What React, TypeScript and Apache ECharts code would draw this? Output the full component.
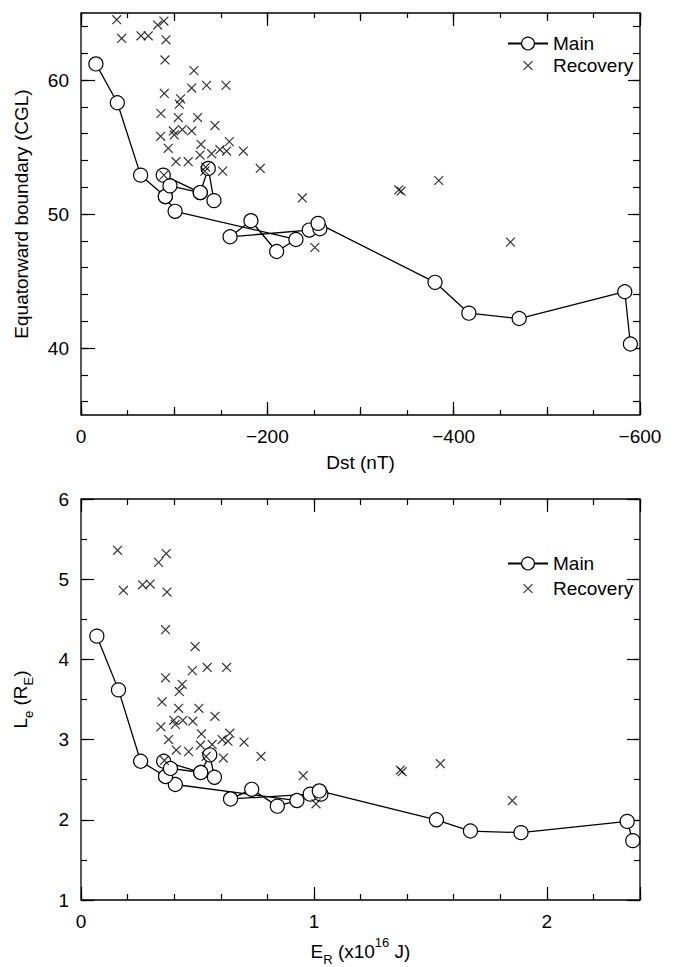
import { useEffect, useRef } from 'react';
import * as echarts from 'echarts';

const FONT = '"Liberation Sans", Arial, Helvetica, sans-serif';

// ---- Top panel: Dst (nT) vs equatorward boundary (CGL) ----
// null entries break the polyline into separate pieces
const mainDst = [-16, -39, -64, -90.5, -101, -230.7, -210, -182.4, -160, -245, -256.4, -254.5, -380, -416.3, -470.3, -583.7, -589.7, null, -88.3, -128, -136.6, -142.7, null, -90.5, -95.5, -128];
const mainCgl = [61.2, 58.3, 52.9, 51.3, 50.2, 48.1, 47.2, 49.5, 48.3, 48.8, 48.9, 49.3, 44.9, 42.6, 42.2, 44.2, 40.3, null, 52.9, 51.6, 53.4, 51.0, null, 51.3, 52.1, 51.6];

const recDst = [-38.3, -89, -82.3, -43.6, -64.4, -72.2, -91.2, -90.1, -121.2, -134.8, -155.6, -118.8, -89.4, -106.9, -105.5, -85.8, -104.4, -125.2, -143.8, -85.5, -99.1, -100.1, -108.7, -118.8, -128.8, -159.2, -93.7, -140.2, -149.1, -156.3, -174.2, -127.7, -101.9, -115.1, -133.8, -133, -152, -192.4, -89, -237.5, -251, -341, -343.5, -384, -461];
const recCgl = [64.5, 64.4, 64.1, 63.1, 63.3, 63.3, 63.0, 61.5, 60.7, 59.6, 59.6, 59.4, 59.0, 58.6, 58.2, 57.5, 57.2, 57.2, 56.6, 55.8, 56.2, 55.9, 56.3, 56.2, 55.2, 55.4, 54.9, 54.5, 54.8, 54.7, 54.7, 54.4, 53.9, 53.9, 53.5, 53.2, 53.2, 53.4, 52.9, 51.2, 47.5, 51.8, 51.7, 52.5, 47.9];

// tick labels of the CGL axis; minor ticks every 2 between 36 and 64
const cglTickLabels = [40, 50, 60];
const cglMinorTicks: number[] = [];
for (let v = 36; v <= 64; v += 2) cglMinorTicks.push(v);

// ---- Bottom panel: E_R (x10^16 J) vs L_e (R_E) ----
const mainEr = [0.068, 0.161, 0.256, 0.363, 0.405, 0.927, 0.843, 0.733, 0.642, 0.984, 1.03, 1.023, 1.526, 1.672, 1.889, 2.345, 2.369, null, 0.355, 0.514, 0.553, 0.573, null, 0.363, 0.384, 0.514];
const mainLe = [4.29, 3.62, 2.73, 2.54, 2.44, 2.24, 2.17, 2.38, 2.26, 2.32, 2.32, 2.36, 2.00, 1.86, 1.84, 1.98, 1.74, null, 2.73, 2.59, 2.81, 2.53, null, 2.54, 2.64, 2.59];

const recEr = [0.157, 0.366, 0.333, 0.182, 0.264, 0.297, 0.369, 0.363, 0.49, 0.478, 0.542, 0.625, 0.363, 0.434, 0.422, 0.348, 0.419, 0.506, 0.575, 0.343, 0.398, 0.405, 0.437, 0.48, 0.517, 0.639, 0.376, 0.563, 0.606, 0.631, 0.7, 0.513, 0.409, 0.462, 0.537, 0.611, 0.773, 0.358, 0.954, 1.009, 1.371, 1.379, 1.543, 1.852];
const recLe = [5.36, 5.32, 5.21, 4.86, 4.93, 4.94, 4.84, 4.37, 4.16, 3.86, 3.90, 3.90, 3.77, 3.69, 3.60, 3.47, 3.39, 3.39, 3.29, 3.16, 3.24, 3.19, 3.24, 3.23, 3.07, 3.08, 3.00, 2.94, 3.00, 2.98, 2.97, 2.93, 2.87, 2.85, 2.79, 2.77, 2.79, 2.74, 2.55, 2.20, 2.62, 2.60, 2.70, 2.24];

const seriesNames = ['Main', 'Recovery'];

const CROSS = 'path://M-4,-4M0,0L10,10M10,0L0,10M14,14';

function pairs(xs: (number | null)[], ys: (number | null)[]) {
  return xs.map((x, i) => (x === null || ys[i] === null ? ['-', '-'] : [x, ys[i]]));
}

function tickAxis(o: any) {
  const { len, labels, tickValues, labelValues, ...rest } = o;
  const tick: any = { show: true, inside: true, length: len, lineStyle: { color: '#000', width: 1.2 } };
  if (tickValues) tick.customValues = tickValues;
  const label: any = labels
    ? { show: true, color: '#000', fontSize: 19, fontFamily: FONT, margin: 12, formatter: labels }
    : { show: false };
  if (labelValues) label.customValues = labelValues;
  return {
    type: 'value',
    axisLine: { show: false, onZero: false },
    splitLine: { show: false },
    axisTick: tick,
    axisLabel: label,
    ...rest,
  };
}

const nameStyle = {
  color: '#000',
  fontSize: 19,
  fontFamily: FONT,
  rich: {
    n: { fontSize: 19, fontFamily: FONT, color: '#000', lineHeight: 30 },
    s: { fontSize: 13, fontFamily: FONT, color: '#000', lineHeight: 13, verticalAlign: 'bottom' },
    p: { fontSize: 13, fontFamily: FONT, color: '#000', lineHeight: 13, verticalAlign: 'top' },
  },
};

const dstFmt = (v: number) => (Math.abs(v) < 1e-9 ? '0' : '\u2212' + Math.abs(v));
const numFmt = (v: number) => String(v);
const intFmt = (v: number) => (Math.abs(v - Math.round(v)) < 1e-9 ? String(Math.round(v)) : '');

const legendBase = {
  orient: 'vertical', left: 502, itemWidth: 40, itemHeight: 16,
  textStyle: { fontSize: 19, color: '#000', fontFamily: FONT },
  itemStyle: { borderWidth: 1.2 },
  data: seriesNames, selectedMode: false,
};

export default function App() {
  const ref = useRef<HTMLDivElement>(null);
  useEffect(() => {
    if (!ref.current) return;
    const chart = echarts.init(ref.current, undefined, { renderer: 'svg' });
    const topX = { gridIndex: 0, min: -600, max: 0, inverse: true };
    const topY = { gridIndex: 0, min: 35, max: 65 };
    const botX = { gridIndex: 1, min: 0, max: 2.4 };
    const botY = { gridIndex: 1, min: 1, max: 6 };
    const option: any = {
      animation: false,
      backgroundColor: '#fff',
      grid: [
        { left: 81, top: 13, width: 559, height: 402, show: true, borderColor: '#000', borderWidth: 1.3, backgroundColor: 'transparent' },
        { left: 81, top: 499, width: 559, height: 405, show: true, borderColor: '#000', borderWidth: 1.3, backgroundColor: 'transparent' },
      ],
      xAxis: [
        tickAxis({ ...topX, position: 'bottom', interval: 50, len: 5 }),
        tickAxis({ ...topX, position: 'bottom', interval: 100, len: 8 }),
        tickAxis({
          ...topX, position: 'bottom', interval: 200, len: 13, labels: dstFmt,
          name: 'Dst (nT)', nameLocation: 'middle', nameGap: 38, nameTextStyle: nameStyle,
        }),
        tickAxis({ ...topX, position: 'top', interval: 50, len: 5 }),
        tickAxis({ ...topX, position: 'top', interval: 100, len: 8 }),
        tickAxis({ ...topX, position: 'top', interval: 200, len: 13 }),
        tickAxis({ ...botX, position: 'bottom', interval: 0.2, len: 6 }),
        tickAxis({
          ...botX, position: 'bottom', interval: 1, len: 13, labels: intFmt,
          name: '{n|E}{s|R}{n| (x10}{p|16}{n| J)}', nameLocation: 'middle', nameGap: 36, nameTextStyle: nameStyle,
        }),
        tickAxis({ ...botX, position: 'top', interval: 0.2, len: 6 }),
        tickAxis({ ...botX, position: 'top', interval: 1, len: 13 }),
      ],
      yAxis: [
        tickAxis({ ...topY, position: 'left', len: 7, tickValues: cglMinorTicks }),
        tickAxis({
          ...topY, position: 'left', len: 14, labels: numFmt, tickValues: cglTickLabels, labelValues: cglTickLabels,
          name: 'Equatorward boundary (CGL)', nameLocation: 'middle', nameGap: 50, nameTextStyle: nameStyle,
        }),
        tickAxis({ ...topY, position: 'right', len: 7, tickValues: cglMinorTicks }),
        tickAxis({ ...topY, position: 'right', len: 12, tickValues: cglTickLabels }),
        tickAxis({ ...botY, position: 'left', interval: 0.5, len: 6 }),
        tickAxis({
          ...botY, position: 'left', interval: 1, len: 13, labels: intFmt,
          name: '{n|L}{s|e}{n| (R}{s|E}{n|)}', nameLocation: 'middle', nameGap: 46, nameTextStyle: nameStyle,
        }),
        tickAxis({ ...botY, position: 'right', interval: 0.5, len: 6 }),
        tickAxis({ ...botY, position: 'right', interval: 1, len: 13 }),
      ],
      legend: [
        { ...legendBase, top: 29, itemGap: 3 },
        { ...legendBase, top: 549, itemGap: 6 },
      ],
      series: [
        {
          name: 'Main', type: 'line', xAxisIndex: 0, yAxisIndex: 0,
          data: pairs(mainDst, mainCgl), connectNulls: false,
          symbol: 'circle', symbolSize: 14, showAllSymbol: true,
          lineStyle: { color: '#000', width: 1.3 },
          itemStyle: { color: '#fff', borderColor: '#000', borderWidth: 1.2 },
          z: 2,
        },
        {
          name: 'Recovery', type: 'scatter', xAxisIndex: 0, yAxisIndex: 0,
          data: pairs(recDst, recCgl),
          symbol: CROSS, symbolSize: 16,
          itemStyle: { color: 'transparent', borderColor: '#000', borderWidth: 1.2 },
          z: 3,
        },
        {
          name: 'Main', type: 'line', xAxisIndex: 6, yAxisIndex: 4,
          data: pairs(mainEr, mainLe), connectNulls: false,
          symbol: 'circle', symbolSize: 14, showAllSymbol: true,
          lineStyle: { color: '#000', width: 1.3 },
          itemStyle: { color: '#fff', borderColor: '#000', borderWidth: 1.2 },
          z: 2,
        },
        {
          name: 'Recovery', type: 'scatter', xAxisIndex: 6, yAxisIndex: 4,
          data: pairs(recEr, recLe),
          symbol: CROSS, symbolSize: 16,
          itemStyle: { color: 'transparent', borderColor: '#000', borderWidth: 1.2 },
          z: 3,
        },
      ],
    };
    chart.setOption(option);
    return () => chart.dispose();
  }, []);
  return (
    <div
      ref={ref}
      style={{ position: 'fixed', left: 0, top: 0, width: 679, height: 967, background: '#fff' }}
    />
  );
}
